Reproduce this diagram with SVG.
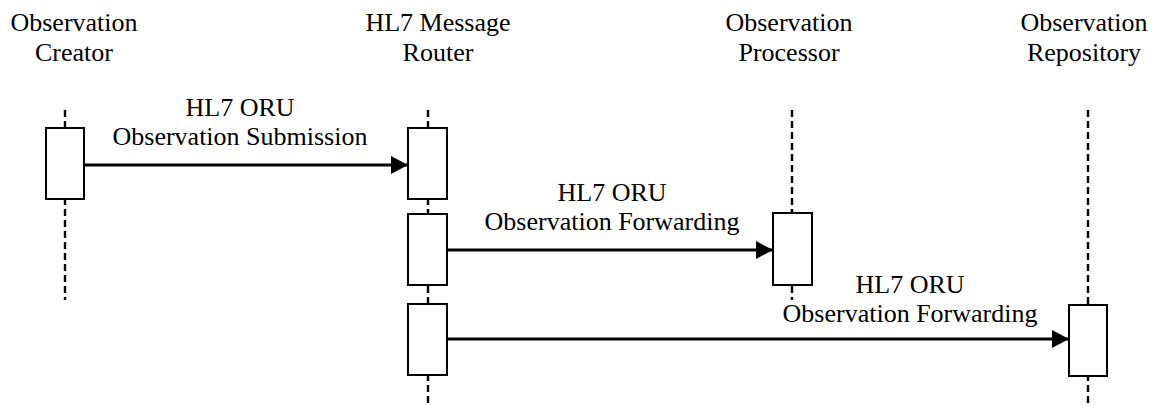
<svg xmlns="http://www.w3.org/2000/svg" width="1159" height="406" viewBox="0 0 1159 406">
<style>
text{font-family:'Liberation Serif','Times New Roman',Times,serif;font-size:26px;fill:#000;text-anchor:middle}
.life{stroke:#000;stroke-width:2.4;stroke-dasharray:7 4;fill:none}
.act{fill:#fff;stroke:#000;stroke-width:2}
.msg{stroke:#000;stroke-width:3.2;fill:none;marker-end:url(#ah)}
</style>
<defs>
<marker id="ah" markerUnits="userSpaceOnUse" markerWidth="20" markerHeight="20" refX="17" refY="9" orient="auto">
<path d="M0,0 L17,9 L0,18 Z" fill="#000"/>
</marker>
</defs>
<rect width="1159" height="406" fill="#fff"/>
<g id="creator">
<text x="74" y="31">Observation</text>
<text x="74" y="61">Creator</text>
<line class="life" x1="65" y1="110" x2="65" y2="300"/>
<rect class="act" x="46" y="128" width="38" height="71"/>
</g>
<g id="router">
<text x="438" y="31">HL7 Message</text>
<text x="438" y="61">Router</text>
<line class="life" x1="428" y1="110" x2="428" y2="406"/>
<rect class="act" x="408" y="128" width="39" height="71"/>
<rect class="act" x="408" y="214" width="39" height="71"/>
<rect class="act" x="408" y="304" width="39" height="71"/>
</g>
<g id="processor">
<text x="789" y="31">Observation</text>
<text x="789" y="61">Processor</text>
<line class="life" x1="792" y1="110" x2="792" y2="300"/>
<rect class="act" x="773" y="213" width="39" height="72"/>
</g>
<g id="repository">
<text x="1084" y="31">Observation</text>
<text x="1084" y="61">Repository</text>
<line class="life" x1="1088" y1="110" x2="1088" y2="406"/>
<rect class="act" x="1069" y="305" width="38" height="71"/>
</g>
<g id="connectors">
<line class="msg" x1="84" y1="165" x2="408" y2="165"/>
<text x="240" y="116">HL7 ORU</text>
<text x="240" y="145">Observation Submission</text>
<line class="msg" x1="447" y1="250" x2="773" y2="250"/>
<text x="612" y="201">HL7 ORU</text>
<text x="612" y="230">Observation Forwarding</text>
<line class="msg" x1="447" y1="339" x2="1069" y2="339"/>
<text x="910" y="293">HL7 ORU</text>
<text x="910" y="322">Observation Forwarding</text>
</g>
</svg>
